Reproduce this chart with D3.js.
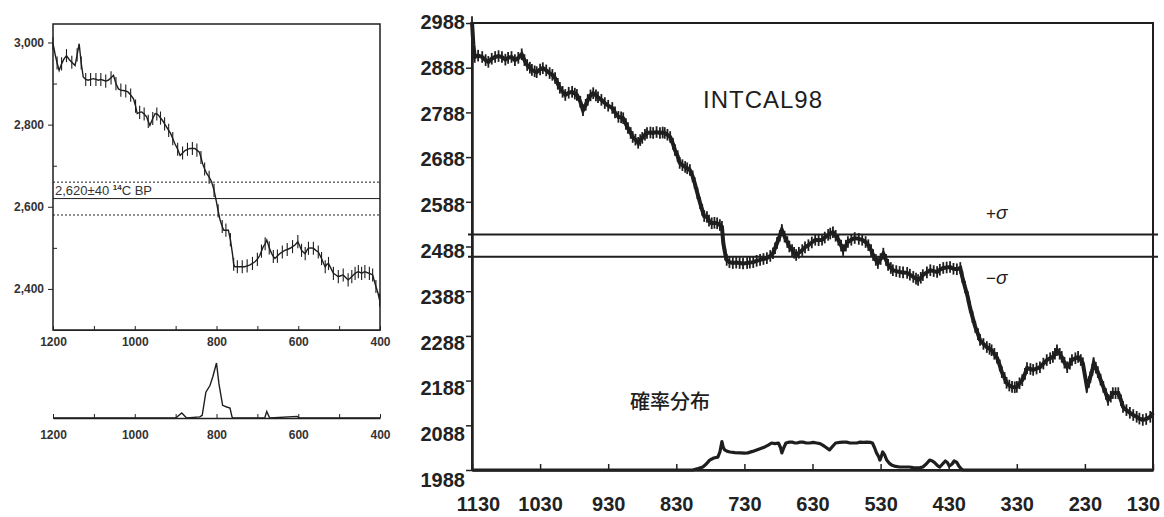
<!DOCTYPE html>
<html>
<head>
<meta charset="utf-8">
<script src="https://cdn.jsdelivr.net/npm/d3@7"></script>
<style>
    body { margin: 0; background: #fff; }
    svg { display: block; font-family: "Liberation Sans", Arial, sans-serif; }
    .axis path, .axis line { stroke: #222; }
    .small text { font-size: 12px; font-weight: bold; fill: #333; }
    .big text { font-size: 20px; font-weight: bold; fill: #222; }
</style>
</head>
<body>
<div id="chart"></div>
<script>

// ---- left panel: calibration curve (cal BC) and the 2,620±40 date ----
const leftYears = [1200, 1195, 1190, 1185, 1179, 1173, 1167, 1160, 1154, 1146, 1141, 1136, 1131, 1126, 1120, 1114, 1108, 1101, 1095, 1089,
    1083, 1077, 1071, 1065, 1058, 1052, 1046, 1040, 1034, 1028, 1022, 1016, 1010, 1003, 998, 994, 988, 983, 977, 971,
    967, 963, 956, 950, 946, 942, 937, 932, 927, 922, 917, 912, 907, 902, 895, 889, 883, 877, 871, 865,
    859, 853, 848, 842, 838, 834, 829, 824, 818, 812, 806, 801, 796, 791, 786, 782, 777, 771, 766, 761,
    758, 755, 749, 743, 737, 731, 725, 719, 712, 706, 700, 694, 690, 686, 681, 677, 671, 665, 661, 657,
    651, 645, 639, 633, 627, 620, 614, 608, 601, 596, 592, 587, 583, 579, 575, 569, 563, 557, 551, 547,
    543, 538, 534, 530, 526, 520, 514, 508, 502, 496, 490, 484, 478, 473, 469, 465, 461, 457, 453, 449,
    445, 441, 437, 432, 426, 422, 418, 414, 410, 405, 401];
const leftC14 = [2997, 2972, 2950, 2932, 2948, 2960, 2968, 2958, 2952, 2944, 2970, 2997, 2950, 2916, 2910, 2908, 2910, 2912, 2910, 2908,
    2910, 2908, 2906, 2908, 2914, 2920, 2900, 2887, 2884, 2883, 2882, 2879, 2872, 2863, 2845, 2827, 2830, 2831, 2826, 2819,
    2808, 2798, 2815, 2827, 2826, 2823, 2816, 2810, 2802, 2794, 2786, 2778, 2766, 2754, 2740, 2725, 2731, 2737, 2740, 2742,
    2742, 2742, 2738, 2733, 2720, 2705, 2692, 2681, 2672, 2661, 2640, 2616, 2590, 2567, 2552, 2543, 2543, 2543, 2520, 2486,
    2460, 2454, 2454, 2454, 2454, 2454, 2456, 2458, 2462, 2466, 2472, 2482, 2492, 2502, 2510, 2519, 2500, 2486, 2479, 2474,
    2480, 2486, 2490, 2494, 2496, 2499, 2503, 2507, 2515, 2504, 2494, 2489, 2486, 2494, 2499, 2500, 2499, 2494, 2490, 2482,
    2474, 2462, 2454, 2460, 2462, 2450, 2438, 2434, 2430, 2432, 2434, 2428, 2422, 2426, 2430, 2434, 2438, 2440, 2442, 2440,
    2438, 2440, 2442, 2440, 2438, 2436, 2434, 2420, 2406, 2390, 2373];
const leftErr = 16;
const leftDateLines = [2660, 2620, 2580];

const leftProbYears = [1200, 900, 885, 873, 841, 835, 826, 816, 809, 800, 794, 785, 775, 767, 762, 760, 682, 677, 670, 603, 596, 400];
const leftProb = [0, 0, 0.09, 0, 0.02, 0.05, 0.47, 0.59, 0.75, 1.0, 0.62, 0.23, 0.2, 0.18, 0.02, 0, 0, 0.12, 0, 0.03, 0, 0];

const leftYTicks = [2400, 2600, 2800, 3000];
const leftYMinor = [2500, 2700, 2900];
const leftXTicks = [1200, 1100, 1000, 900, 800, 700, 600, 500, 400];
const leftXLabels = [1200, 1000, 800, 600, 400];

// ---- right panel: INTCAL98 curve, ±σ band and probability distribution ----
const rightYears = [1130, 1128, 1126, 1121, 1115, 1110, 1106, 1101, 1096, 1091, 1086, 1081, 1077, 1072, 1067, 1062, 1057, 1053, 1049, 1045,
    1042, 1038, 1035, 1030, 1026, 1021, 1016, 1012, 1008, 1004, 1001, 997, 993, 988, 983, 979, 976, 971, 967, 963,
    960, 956, 952, 948, 945, 940, 935, 930, 924, 920, 915, 911, 908, 904, 901, 897, 894, 890, 886, 883,
    880, 876, 873, 868, 864, 859, 854, 850, 847, 843, 839, 835, 832, 828, 825, 821, 817, 814, 810, 806,
    803, 799, 795, 792, 789, 785, 782, 778, 774, 770, 766, 763, 761, 758, 756, 752, 747, 742, 737, 732,
    726, 722, 717, 712, 707, 702, 697, 692, 688, 685, 682, 678, 675, 671, 667, 664, 660, 657, 654, 650,
    645, 641, 636, 631, 626, 621, 616, 612, 607, 604, 600, 596, 592, 588, 585, 581, 578, 573, 568, 562,
    557, 552, 548, 544, 541, 537, 534, 530, 526, 522, 519, 515, 512, 507, 502, 497, 491, 487, 482, 478,
    475, 471, 468, 462, 457, 452, 447, 443, 438, 433, 428, 423, 418, 413, 410, 406, 402, 399, 395, 391,
    387, 384, 379, 374, 370, 367, 363, 359, 355, 352, 348, 345, 341, 337, 333, 330, 326, 322, 318, 315,
    310, 306, 301, 296, 291, 286, 281, 277, 274, 271, 267, 264, 260, 256, 252, 249, 244, 240, 236, 233,
    230, 227, 224, 222, 219, 217, 214, 211, 207, 203, 199, 196, 192, 189, 185, 181, 177, 174, 169, 164,
    159, 154, 150, 145, 140, 134, 130];
const rightC14 = [2990, 2940, 2912, 2915, 2912, 2905, 2901, 2908, 2912, 2914, 2912, 2906, 2910, 2912, 2905, 2910, 2918, 2905, 2894, 2888,
    2883, 2880, 2878, 2884, 2887, 2882, 2876, 2872, 2865, 2852, 2843, 2834, 2827, 2832, 2834, 2830, 2827, 2812, 2793, 2805,
    2816, 2826, 2831, 2826, 2822, 2816, 2809, 2803, 2798, 2788, 2778, 2777, 2775, 2762, 2753, 2742, 2733, 2727, 2720, 2726,
    2731, 2738, 2742, 2743, 2742, 2744, 2742, 2743, 2742, 2738, 2733, 2718, 2704, 2690, 2675, 2670, 2666, 2663, 2659, 2645,
    2630, 2607, 2585, 2570, 2556, 2554, 2546, 2540, 2541, 2540, 2536, 2532, 2496, 2470, 2458, 2453, 2451, 2452, 2451, 2450,
    2451, 2452, 2453, 2456, 2458, 2460, 2462, 2467, 2473, 2484, 2496, 2512, 2525, 2510, 2498, 2488, 2480, 2474, 2469, 2474,
    2480, 2486, 2491, 2497, 2503, 2502, 2503, 2508, 2514, 2517, 2520, 2512, 2503, 2490, 2480, 2490, 2498, 2503, 2507, 2505,
    2503, 2498, 2491, 2480, 2469, 2458, 2451, 2460, 2472, 2458, 2447, 2440, 2435, 2433, 2431, 2430, 2429, 2425, 2420, 2416,
    2413, 2418, 2424, 2430, 2435, 2433, 2431, 2436, 2440, 2441, 2442, 2438, 2437, 2440, 2420, 2397, 2375, 2353, 2330, 2308,
    2292, 2279, 2270, 2263, 2259, 2256, 2248, 2239, 2222, 2207, 2194, 2183, 2177, 2174, 2173, 2174, 2182, 2189, 2203, 2216,
    2214, 2212, 2215, 2218, 2226, 2234, 2238, 2241, 2248, 2256, 2248, 2241, 2228, 2218, 2226, 2234, 2238, 2241, 2234, 2227,
    2200, 2174, 2185, 2196, 2212, 2227, 2217, 2207, 2190, 2174, 2158, 2145, 2152, 2160, 2160, 2160, 2144, 2129, 2122, 2116,
    2111, 2107, 2103, 2100, 2102, 2107, 2116];
const rightErr = 13;
const rightSigmaLines = [2515, 2465];

const rightProbYears = [1130, 806, 798, 791, 786, 781, 775, 769, 766, 763, 761, 759, 755, 751, 744, 736, 730, 725, 718, 712,
    706, 700, 695, 690, 685, 680, 677, 675, 672, 669, 664, 660, 656, 653, 648, 644, 639, 634, 629, 624,
    619, 615, 610, 605, 600, 596, 590, 585, 580, 575, 570, 565, 560, 555, 550, 545, 542, 539, 536, 533,
    531, 529, 527, 524, 521, 517, 514, 508, 502, 495, 488, 482, 477, 472, 468, 463, 458, 454, 450, 446,
    443, 439, 435, 432, 429, 425, 422, 418, 415, 412, 409, 130];
const rightProb = [0, 0, 0.05, 0.1, 0.2, 0.33, 0.4, 0.43, 0.6, 0.95, 0.75, 0.67, 0.62, 0.6, 0.58, 0.57, 0.56, 0.57, 0.62, 0.67,
    0.72, 0.77, 0.83, 0.9, 0.88, 0.9, 0.75, 0.57, 0.75, 0.9, 0.93, 0.93, 0.9, 0.9, 0.93, 0.93, 0.9, 0.9, 0.92, 0.9,
    0.88, 0.83, 0.75, 0.67, 0.8, 0.9, 0.92, 0.93, 0.93, 0.9, 0.9, 0.9, 0.93, 0.92, 0.93, 0.92, 0.9, 0.75, 0.57, 0.45,
    0.33, 0.45, 0.6, 0.5, 0.33, 0.22, 0.17, 0.12, 0.1, 0.1, 0.1, 0.08, 0.07, 0.08, 0.1, 0.2, 0.33, 0.3, 0.23, 0.14,
    0.1, 0.2, 0.3, 0.25, 0.13, 0.2, 0.3, 0.25, 0.13, 0.05, 0, 0];

const rightYTicks = [1988, 2088, 2188, 2288, 2388, 2488, 2588, 2688, 2788, 2888, 2988];
const rightXTicks = [1130, 1030, 930, 830, 730, 630, 530, 430, 330, 230, 130];


const W = 1164, H = 517;
const ink = "#1e1e1e";

let svg = d3.select("#chart").append("svg")
    .attr("width", W)
    .attr("height", H);

let zip = (xs, ys) => xs.map((x, i) => ({year: x, v: ys[i]}));


/*
 * Left panel
 */
let L = {left: 53, right: 380, top: 24, bottom: 330, probBase: 418, probTop: 363};

let xL = d3.scaleLinear().domain([1200, 400]).range([L.left, L.right]);
let yL = d3.scaleLinear().domain([2300, 3045]).range([L.bottom, L.top]);
let pL = d3.scaleLinear().domain([0, 1]).range([L.probBase, L.probTop]);

// date lines: dashed ±40, solid mean
svg.selectAll(".date-line")
    .data(leftDateLines)
    .enter().append("line")
    .attr("class", "date-line")
    .attr("x1", L.left).attr("x2", L.right)
    .attr("y1", d => yL(d)).attr("y2", d => yL(d))
    .attr("stroke", ink)
    .attr("stroke-width", 1)
    .attr("stroke-dasharray", (d, i) => i === 1 ? null : "2,2");

let dateLabel = svg.append("text")
    .attr("x", L.left + 2)
    .attr("y", yL(leftDateLines[1]) - 4)
    .attr("font-size", 13)
    .attr("fill", "#333")
    .text("2,620±40 ");
dateLabel.append("tspan").attr("dy", -5).attr("font-size", 8).attr("font-weight", "bold").text("14");
dateLabel.append("tspan").attr("dy", 5).text("C BP");

let leftData = zip(leftYears, leftC14);

svg.selectAll(".err-l")
    .data(leftData.filter((d, i) => i % 2 === 0))
    .enter().append("line")
    .attr("class", "err-l")
    .attr("x1", d => xL(d.year)).attr("x2", d => xL(d.year))
    .attr("y1", d => yL(d.v - leftErr)).attr("y2", d => yL(d.v + leftErr))
    .attr("stroke", ink)
    .attr("stroke-width", 1.1);

svg.append("path")
    .datum(leftData)
    .attr("d", d3.line().x(d => xL(d.year)).y(d => yL(d.v)))
    .attr("fill", "none")
    .attr("stroke", ink)
    .attr("stroke-width", 1.4);

// frame
svg.append("rect")
    .attr("x", L.left).attr("y", L.top)
    .attr("width", L.right - L.left).attr("height", L.bottom - L.top)
    .attr("fill", "none")
    .attr("stroke", ink)
    .attr("stroke-width", 1.5);

// y axis: labelled ticks outside, minor ticks inside
svg.append("g")
    .attr("class", "axis small")
    .attr("transform", "translate(" + L.left + ",0)")
    .call(d3.axisLeft(yL).tickValues(leftYTicks).tickFormat(d3.format(",")).tickSize(5).tickPadding(4).tickSizeOuter(0))
    .select(".domain").remove();

svg.append("g")
    .attr("class", "axis small")
    .attr("transform", "translate(" + L.left + ",0)")
    .call(d3.axisLeft(yL).tickValues(leftYMinor).tickFormat("").tickSize(-4).tickSizeOuter(0))
    .select(".domain").remove();

// x axis under the curve and under the probability curve
let leftXAxis = (padding) => d3.axisBottom(xL)
    .tickValues(leftXTicks)
    .tickFormat(d => leftXLabels.includes(d) ? d : "")
    .tickSizeInner(-4)
    .tickSizeOuter(0)
    .tickPadding(padding);

svg.append("g")
    .attr("class", "axis small")
    .attr("transform", "translate(0," + L.bottom + ")")
    .call(leftXAxis(7))
    .selectAll("text").attr("font-size", 13);

let gProbAxis = svg.append("g")
    .attr("class", "axis small")
    .attr("transform", "translate(0," + L.probBase + ")")
    .call(leftXAxis(12));
gProbAxis.selectAll("text").attr("font-size", 13);
gProbAxis.select(".domain").attr("stroke-width", 1.3);

svg.append("path")
    .datum(zip(leftProbYears, leftProb))
    .attr("d", d3.line().x(d => xL(d.year)).y(d => pL(d.v)))
    .attr("fill", "none")
    .attr("stroke", ink)
    .attr("stroke-width", 1.4);


/*
 * Right panel
 */
let R = {left: 472, right: 1153, top: 23, bottom: 470};

let xR = d3.scaleLinear().domain([1130, 130]).range([R.left, R.right]);
let yR = d3.scaleLinear().domain([1988, 2988]).range([R.bottom, R.top]);
// the printed tick numbers sit a little lower than their ticks towards the bottom
let yRLabel = d3.scaleLinear().domain([1988, 2988]).range([480, 22]);
let pR = d3.scaleLinear().domain([0, 1]).range([R.bottom, R.bottom - 30]);

svg.append("rect")
    .attr("x", R.left).attr("y", R.top)
    .attr("width", R.right - R.left).attr("height", R.bottom - R.top)
    .attr("fill", "none")
    .attr("stroke", ink)
    .attr("stroke-width", 2);

// ±σ lines
svg.selectAll(".sigma-line")
    .data(rightSigmaLines)
    .enter().append("line")
    .attr("class", "sigma-line")
    .attr("x1", R.left - 4).attr("x2", R.right + 5)
    .attr("y1", d => yR(d)).attr("y2", d => yR(d))
    .attr("stroke", ink)
    .attr("stroke-width", 2);

let rightData = zip(rightYears, rightC14);

svg.selectAll(".err-r")
    .data(rightData)
    .enter().append("line")
    .attr("class", "err-r")
    .attr("x1", d => xR(d.year)).attr("x2", d => xR(d.year))
    .attr("y1", d => yR(d.v - rightErr)).attr("y2", d => yR(d.v + rightErr))
    .attr("stroke", ink)
    .attr("stroke-width", 1.8);

svg.append("path")
    .datum(rightData)
    .attr("d", d3.line().x(d => xR(d.year)).y(d => yR(d.v)))
    .attr("fill", "none")
    .attr("stroke", ink)
    .attr("stroke-width", 4);

svg.append("path")
    .datum(zip(rightProbYears, rightProb))
    .attr("d", d3.line().x(d => xR(d.year)).y(d => pR(d.v)))
    .attr("fill", "none")
    .attr("stroke", ink)
    .attr("stroke-width", 3.2)
    .attr("stroke-linejoin", "round");

// axes
let gyR = svg.append("g")
    .attr("class", "axis big")
    .attr("transform", "translate(" + R.left + ",0)")
    .call(d3.axisLeft(yR).tickValues(rightYTicks).tickFormat(d3.format("d")).tickSize(6).tickPadding(1).tickSizeOuter(0));
gyR.selectAll("line").attr("stroke-width", 1.5);
gyR.select(".domain").attr("stroke-width", 2.5);
gyR.selectAll(".tick text").attr("y", d => yRLabel(d) - yR(d));

let gxR = svg.append("g")
    .attr("class", "axis big")
    .attr("transform", "translate(0," + R.bottom + ")")
    .call(d3.axisBottom(xR).tickValues(rightXTicks).tickFormat(d3.format("d")).tickSizeInner(-6).tickSizeOuter(0).tickPadding(27));
gxR.selectAll("line").attr("stroke-width", 1.5);
gxR.select(".domain").attr("stroke-width", 2.5);
// keep the end labels inside the picture
gxR.selectAll(".tick text")
    .attr("dx", d => Math.max(0, R.left + 6 - xR(d)) + Math.min(0, W - 21 - xR(d)));

// annotations
svg.append("text")
    .attr("x", 703).attr("y", 108)
    .attr("font-size", 24)
    .attr("letter-spacing", 1)
    .attr("fill", ink)
    .text("INTCAL98");

svg.append("text")
    .attr("x", 630).attr("y", 409)
    .attr("font-family", "'Noto Sans CJK JP', sans-serif")
    .attr("font-size", 20)
    .attr("font-weight", 500)
    .attr("fill", ink)
    .text("確率分布");

let sigmaLabels = [{t: "+", y: rightSigmaLines[0], dy: -15}, {t: "−", y: rightSigmaLines[1], dy: 27}];
sigmaLabels.forEach(s => {
    let t = svg.append("text")
        .attr("x", 986)
        .attr("y", yR(s.y) + s.dy)
        .attr("font-size", 17)
        .attr("fill", ink)
        .text(s.t);
    t.append("tspan").attr("font-style", "italic").attr("font-size", 19).text("σ");
});

</script>
</body>
</html>
